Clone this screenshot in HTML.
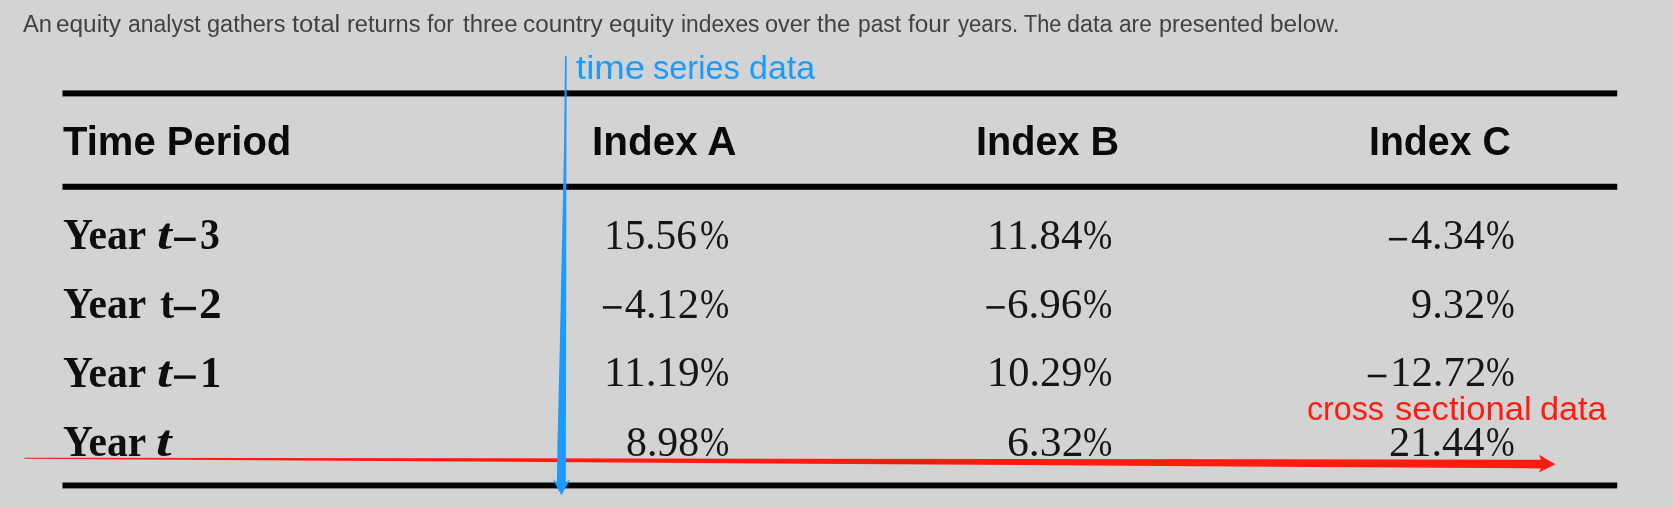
<!DOCTYPE html><html><head><meta charset="utf-8"><title>table</title><style>
html,body{margin:0;padding:0}
body{width:1673px;height:507px;overflow:hidden;background:#d3d3d3;position:relative}
.t{position:absolute;white-space:nowrap;line-height:1}
.b{filter:blur(0.6px)}
.r{position:absolute;background:#000;left:62.5px;width:1554.7px}
.d{position:absolute;background:#1c1c1c}
svg{position:absolute;left:0;top:0}
</style></head><body>
<svg class="b" width="1673" height="507" viewBox="0 0 1673 507">
<rect x="62.5" y="90.4" width="1554.7" height="6.0" fill="#000"/>
<rect x="62.5" y="183.75" width="1554.7" height="6.0" fill="#000"/>
<rect x="62.5" y="482.5" width="1554.7" height="5.9" fill="#000"/>
<rect x="1388.9" y="237.90" width="18.2" height="2.6" fill="#161616"/>
<rect x="602.9" y="306.10" width="18.7" height="2.6" fill="#161616"/>
<rect x="986.4" y="306.10" width="18.3" height="2.6" fill="#161616"/>
<rect x="1367.7" y="374.70" width="18.7" height="2.6" fill="#161616"/>
<rect x="174.0" y="237.60" width="21.7" height="3.4" fill="#0e0e0e"/>
<rect x="173.8" y="306.80" width="22.2" height="3.4" fill="#0e0e0e"/>
<rect x="174.0" y="375.40" width="21.7" height="3.4" fill="#0e0e0e"/>
</svg>
<span class="t " id="w0" style='left:22.65px;top:13.00px;font:normal normal 23.5px "Liberation Sans", sans-serif;line-height:1;color:#424242;transform:scaleX(1.0110);transform-origin:left top'>An</span>
<span class="t " id="w1" style='left:56.30px;top:13.00px;font:normal normal 23.5px "Liberation Sans", sans-serif;line-height:1;color:#424242;transform:scaleX(1.0373);transform-origin:left top'>equity</span>
<span class="t " id="w2" style='left:127.95px;top:13.00px;font:normal normal 23.5px "Liberation Sans", sans-serif;line-height:1;color:#424242;transform:scaleX(0.9769);transform-origin:left top'>analyst</span>
<span class="t " id="w3" style='left:207.35px;top:13.00px;font:normal normal 23.5px "Liberation Sans", sans-serif;line-height:1;color:#424242;transform:scaleX(1.0007);transform-origin:left top'>gathers</span>
<span class="t " id="w4" style='left:291.75px;top:13.00px;font:normal normal 23.5px "Liberation Sans", sans-serif;line-height:1;color:#424242;transform:scaleX(1.0866);transform-origin:left top'>total</span>
<span class="t " id="w5" style='left:346.55px;top:13.00px;font:normal normal 23.5px "Liberation Sans", sans-serif;line-height:1;color:#424242;transform:scaleX(1.0042);transform-origin:left top'>returns</span>
<span class="t " id="w6" style='left:427.15px;top:13.00px;font:normal normal 23.5px "Liberation Sans", sans-serif;line-height:1;color:#424242;transform:scaleX(0.9797);transform-origin:left top'>for</span>
<span class="t " id="w7" style='left:462.70px;top:13.00px;font:normal normal 23.5px "Liberation Sans", sans-serif;line-height:1;color:#424242;transform:scaleX(1.0162);transform-origin:left top'>three</span>
<span class="t " id="w8" style='left:522.50px;top:13.00px;font:normal normal 23.5px "Liberation Sans", sans-serif;line-height:1;color:#424242;transform:scaleX(1.0336);transform-origin:left top'>country</span>
<span class="t " id="w9" style='left:608.90px;top:13.00px;font:normal normal 23.5px "Liberation Sans", sans-serif;line-height:1;color:#424242;transform:scaleX(1.0332);transform-origin:left top'>equity</span>
<span class="t " id="w10" style='left:680.55px;top:13.00px;font:normal normal 23.5px "Liberation Sans", sans-serif;line-height:1;color:#424242;transform:scaleX(0.9689);transform-origin:left top'>indexes</span>
<span class="t " id="w11" style='left:765.40px;top:13.00px;font:normal normal 23.5px "Liberation Sans", sans-serif;line-height:1;color:#424242;transform:scaleX(0.9989);transform-origin:left top'>over</span>
<span class="t " id="w12" style='left:817.40px;top:13.00px;font:normal normal 23.5px "Liberation Sans", sans-serif;line-height:1;color:#424242;transform:scaleX(1.0177);transform-origin:left top'>the</span>
<span class="t " id="w13" style='left:857.50px;top:13.00px;font:normal normal 23.5px "Liberation Sans", sans-serif;line-height:1;color:#424242;transform:scaleX(0.9696);transform-origin:left top'>past</span>
<span class="t " id="w14" style='left:907.75px;top:13.00px;font:normal normal 23.5px "Liberation Sans", sans-serif;line-height:1;color:#424242;transform:scaleX(1.0388);transform-origin:left top'>four</span>
<span class="t " id="w15" style='left:958.05px;top:13.00px;font:normal normal 23.5px "Liberation Sans", sans-serif;line-height:1;color:#424242;transform:scaleX(0.9409);transform-origin:left top'>years.</span>
<span class="t " id="w16" style='left:1023.50px;top:13.00px;font:normal normal 23.5px "Liberation Sans", sans-serif;line-height:1;color:#424242;transform:scaleX(0.9218);transform-origin:left top'>The</span>
<span class="t " id="w17" style='left:1067.40px;top:13.00px;font:normal normal 23.5px "Liberation Sans", sans-serif;line-height:1;color:#424242;transform:scaleX(0.9945);transform-origin:left top'>data</span>
<span class="t " id="w18" style='left:1119.45px;top:13.00px;font:normal normal 23.5px "Liberation Sans", sans-serif;line-height:1;color:#424242;transform:scaleX(0.9641);transform-origin:left top'>are</span>
<span class="t " id="w19" style='left:1159.40px;top:13.00px;font:normal normal 23.5px "Liberation Sans", sans-serif;line-height:1;color:#424242;transform:scaleX(0.9966);transform-origin:left top'>presented</span>
<span class="t " id="w20" style='left:1270.00px;top:13.00px;font:normal normal 23.5px "Liberation Sans", sans-serif;line-height:1;color:#424242;transform:scaleX(1.0421);transform-origin:left top'>below.</span>
<span class="t " id="ts0" style='left:575.50px;top:50.00px;font:normal normal 34px "Liberation Sans", sans-serif;line-height:1;color:#1b9bfe;transform:scaleX(1.0771);transform-origin:left top'>time</span>
<span class="t " id="ts1" style='left:653.35px;top:50.00px;font:normal normal 34px "Liberation Sans", sans-serif;line-height:1;color:#1b9bfe;transform:scaleX(0.9561);transform-origin:left top'>series</span>
<span class="t " id="ts2" style='left:749.35px;top:50.00px;font:normal normal 34px "Liberation Sans", sans-serif;line-height:1;color:#1b9bfe;transform:scaleX(0.9992);transform-origin:left top'>data</span>
<span class="t " id="cs0" style='left:1306.95px;top:391.00px;font:normal normal 34px "Liberation Sans", sans-serif;line-height:1;color:#fe1c11;transform:scaleX(0.9472);transform-origin:left top'>cross</span>
<span class="t " id="cs1" style='left:1394.55px;top:391.00px;font:normal normal 34px "Liberation Sans", sans-serif;line-height:1;color:#fe1c11;transform:scaleX(1.0191);transform-origin:left top'>sectional</span>
<span class="t " id="cs2" style='left:1539.80px;top:391.00px;font:normal normal 34px "Liberation Sans", sans-serif;line-height:1;color:#fe1c11;transform:scaleX(1.0069);transform-origin:left top'>data</span>
<span class="t b" id="tp" style='left:63.35px;top:121.00px;font:normal bold 41px "Liberation Sans", sans-serif;line-height:1;color:#0a0a0a;transform:scaleX(0.9758);transform-origin:left top'>Time Period</span>
<span class="t b" id="ia" style='left:592.00px;top:121.00px;font:normal bold 41px "Liberation Sans", sans-serif;line-height:1;color:#0a0a0a;transform:scaleX(0.9864);transform-origin:left top'>Index A</span>
<span class="t b" id="ib" style='left:976.00px;top:121.00px;font:normal bold 41px "Liberation Sans", sans-serif;line-height:1;color:#0a0a0a;transform:scaleX(0.9670);transform-origin:left top'>Index B</span>
<span class="t b" id="ic" style='left:1369.05px;top:121.00px;font:normal bold 41px "Liberation Sans", sans-serif;line-height:1;color:#0a0a0a;transform:scaleX(0.9571);transform-origin:left top'>Index C</span>
<span class="t b" id="y0" style='left:62.75px;top:212.00px;font:normal bold 45px "Liberation Serif", serif;line-height:1;color:#0e0e0e;transform:scaleX(0.9243);transform-origin:left top'>Year</span>
<span class="t b" id="y1" style='left:62.75px;top:281.00px;font:normal bold 45px "Liberation Serif", serif;line-height:1;color:#0e0e0e;transform:scaleX(0.9243);transform-origin:left top'>Year</span>
<span class="t b" id="y2" style='left:62.75px;top:350.00px;font:normal bold 45px "Liberation Serif", serif;line-height:1;color:#0e0e0e;transform:scaleX(0.9243);transform-origin:left top'>Year</span>
<span class="t b" id="y3" style='left:62.75px;top:419.00px;font:normal bold 45px "Liberation Serif", serif;line-height:1;color:#0e0e0e;transform:scaleX(0.9243);transform-origin:left top'>Year</span>
<span class="t b" id="t0" style='left:156.70px;top:213.00px;font:italic bold 44px "Liberation Serif", serif;line-height:1;color:#0e0e0e;transform:scaleX(1.2124);transform-origin:left top'>t</span>
<span class="t b" id="t1" style='left:159.65px;top:282.00px;font:normal bold 44px "Liberation Serif", serif;line-height:1;color:#0e0e0e;transform:scaleX(0.9643);transform-origin:left top'>t</span>
<span class="t b" id="t2" style='left:156.70px;top:351.00px;font:italic bold 44px "Liberation Serif", serif;line-height:1;color:#0e0e0e;transform:scaleX(1.2124);transform-origin:left top'>t</span>
<span class="t b" id="t3" style='left:156.20px;top:420.00px;font:italic bold 44px "Liberation Serif", serif;line-height:1;color:#0e0e0e;transform:scaleX(1.2745);transform-origin:left top'>t</span>
<span class="t b" id="g0" style='left:199.50px;top:213.00px;font:normal bold 44px "Liberation Serif", serif;line-height:1;color:#0e0e0e;transform:scaleX(0.9000);transform-origin:left top'>3</span>
<span class="t b" id="g1" style='left:198.70px;top:282.00px;font:normal bold 44px "Liberation Serif", serif;line-height:1;color:#0e0e0e;transform:scaleX(1.0270);transform-origin:left top'>2</span>
<span class="t b" id="g2" style='left:199.50px;top:351.00px;font:normal bold 44px "Liberation Serif", serif;line-height:1;color:#0e0e0e;transform:scaleX(0.9665);transform-origin:left top'>1</span>
<span class="t b" id="n00" style='left:604.10px;top:214.00px;font:normal normal 42.5px "Liberation Serif", serif;line-height:1;color:#161616;transform:scaleX(0.9714);transform-origin:left top'>15.56</span>
<span class="t b" id="p00" style='left:700.40px;top:214.00px;font:normal normal 42.5px "Liberation Serif", serif;line-height:1;color:#161616;transform:scaleX(0.8260);transform-origin:left top'>%</span>
<span class="t b" id="n01" style='left:987.10px;top:214.00px;font:normal normal 42.5px "Liberation Serif", serif;line-height:1;color:#161616;transform:scaleX(1.0150);transform-origin:left top'>11.84</span>
<span class="t b" id="p01" style='left:1083.25px;top:214.00px;font:normal normal 42.5px "Liberation Serif", serif;line-height:1;color:#161616;transform:scaleX(0.8275);transform-origin:left top'>%</span>
<span class="t b" id="n02" style='left:1411.15px;top:214.00px;font:normal normal 42.5px "Liberation Serif", serif;line-height:1;color:#161616;transform:scaleX(0.9939);transform-origin:left top'>4.34</span>
<span class="t b" id="p02" style='left:1486.25px;top:214.00px;font:normal normal 42.5px "Liberation Serif", serif;line-height:1;color:#161616;transform:scaleX(0.8107);transform-origin:left top'>%</span>
<span class="t b" id="n10" style='left:624.65px;top:283.00px;font:normal normal 42.5px "Liberation Serif", serif;line-height:1;color:#161616'>4.12</span>
<span class="t b" id="p10" style='left:700.40px;top:283.00px;font:normal normal 42.5px "Liberation Serif", serif;line-height:1;color:#161616;transform:scaleX(0.8260);transform-origin:left top'>%</span>
<span class="t b" id="n11" style='left:1007.15px;top:283.00px;font:normal normal 42.5px "Liberation Serif", serif;line-height:1;color:#161616;transform:scaleX(1.0140);transform-origin:left top'>6.96</span>
<span class="t b" id="p11" style='left:1083.25px;top:283.00px;font:normal normal 42.5px "Liberation Serif", serif;line-height:1;color:#161616;transform:scaleX(0.8275);transform-origin:left top'>%</span>
<span class="t b" id="n12" style='left:1411.25px;top:283.00px;font:normal normal 42.5px "Liberation Serif", serif;line-height:1;color:#161616;transform:scaleX(0.9972);transform-origin:left top'>9.32</span>
<span class="t b" id="p12" style='left:1486.25px;top:283.00px;font:normal normal 42.5px "Liberation Serif", serif;line-height:1;color:#161616;transform:scaleX(0.8107);transform-origin:left top'>%</span>
<span class="t b" id="n20" style='left:604.10px;top:351.00px;font:normal normal 42.5px "Liberation Serif", serif;line-height:1;color:#161616;transform:scaleX(1.0180);transform-origin:left top'>11.19</span>
<span class="t b" id="p20" style='left:700.40px;top:351.00px;font:normal normal 42.5px "Liberation Serif", serif;line-height:1;color:#161616;transform:scaleX(0.8260);transform-origin:left top'>%</span>
<span class="t b" id="n21" style='left:987.10px;top:351.00px;font:normal normal 42.5px "Liberation Serif", serif;line-height:1;color:#161616;transform:scaleX(0.9983);transform-origin:left top'>10.29</span>
<span class="t b" id="p21" style='left:1083.25px;top:351.00px;font:normal normal 42.5px "Liberation Serif", serif;line-height:1;color:#161616;transform:scaleX(0.8275);transform-origin:left top'>%</span>
<span class="t b" id="n22" style='left:1389.70px;top:351.00px;font:normal normal 42.5px "Liberation Serif", serif;line-height:1;color:#161616;transform:scaleX(1.0072);transform-origin:left top'>12.72</span>
<span class="t b" id="p22" style='left:1486.25px;top:351.00px;font:normal normal 42.5px "Liberation Serif", serif;line-height:1;color:#161616;transform:scaleX(0.8107);transform-origin:left top'>%</span>
<span class="t b" id="n30" style='left:625.65px;top:421.00px;font:normal normal 42.5px "Liberation Serif", serif;line-height:1;color:#161616;transform:scaleX(0.9825);transform-origin:left top'>8.98</span>
<span class="t b" id="p30" style='left:700.40px;top:421.00px;font:normal normal 42.5px "Liberation Serif", serif;line-height:1;color:#161616;transform:scaleX(0.8260);transform-origin:left top'>%</span>
<span class="t b" id="n31" style='left:1007.15px;top:421.00px;font:normal normal 42.5px "Liberation Serif", serif;line-height:1;color:#161616;transform:scaleX(1.0284);transform-origin:left top'>6.32</span>
<span class="t b" id="p31" style='left:1083.25px;top:421.00px;font:normal normal 42.5px "Liberation Serif", serif;line-height:1;color:#161616;transform:scaleX(0.8275);transform-origin:left top'>%</span>
<span class="t b" id="n32" style='left:1389.40px;top:421.00px;font:normal normal 42.5px "Liberation Serif", serif;line-height:1;color:#161616;transform:scaleX(0.9979);transform-origin:left top'>21.44</span>
<span class="t b" id="p32" style='left:1486.25px;top:421.00px;font:normal normal 42.5px "Liberation Serif", serif;line-height:1;color:#161616;transform:scaleX(0.8107);transform-origin:left top'>%</span>
<svg width="1673" height="507" viewBox="0 0 1673 507"><polygon points="24.5,457.7 1541,459.7 1539,454.8 1555.4,464.2 1539,472.5 1541,468.4 24.5,458.8" fill="#fe1c11"/>
<polygon points="565.0,56.2 566.7,56.2 566.4,150 566.1,350 565.8,482.6 570.4,479 561.5,495.2 552.6,479 556.9,482.6 557.5,443 559.7,350 564.0,150" fill="#1b9bfe"/></svg>
</body></html>
